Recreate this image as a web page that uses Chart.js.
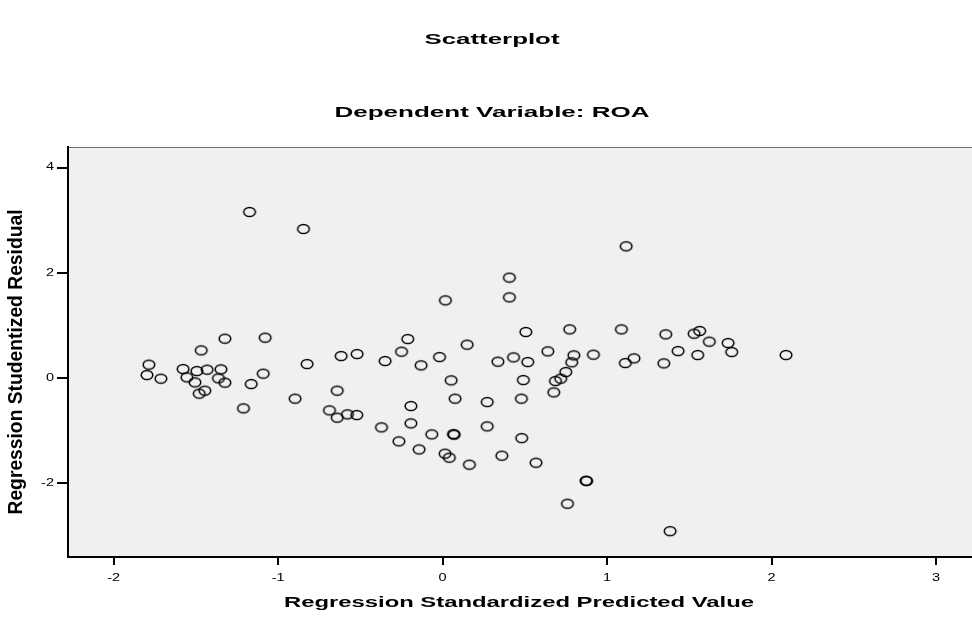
<!DOCTYPE html>
<html>
<head>
<meta charset="utf-8">
<script src="https://cdn.jsdelivr.net/npm/chart.js@4/dist/chart.umd.min.js"></script>
<style>
html,body{margin:0;padding:0;background:#fff;}
#c{display:block;}
</style>
</head>
<body>
<canvas id="c" width="972" height="618"></canvas>
<script>
// ---- data ----
const predicted = [
 -1.174,-0.846,-1.324,-1.079,-1.786,-1.798,-1.713,-1.468,-1.578,-1.494,
 -1.432,-1.348,-1.555,-1.506,-1.363,-1.324,-1.446,-1.480,-1.164,-1.091,
 -1.211,-0.824,-0.897,-0.617,-0.520,-0.641,-0.688,-0.641,-0.579,-0.522,
 -0.350,-0.250,-0.212,-0.131,-0.019,0.149,0.052,0.076,-0.193,-0.193,
 -0.372,-0.266,-0.143,-0.066,0.066,0.070,0.015,0.041,0.163,0.271,
 0.271,0.360,0.336,0.431,0.506,0.518,0.491,0.479,0.481,0.568,
 0.640,0.773,0.798,0.785,0.749,0.718,0.686,0.676,0.917,1.087,
 1.111,1.164,0.872,0.876,0.759,1.116,0.406,0.406,0.017,1.357,
 1.529,1.563,1.622,1.736,1.758,1.432,1.551,1.345,2.088,1.383
];
const residual = [
 3.156,2.833,0.749,0.768,0.255,0.057,-0.012,0.527,0.171,0.133,
 0.160,0.165,0.013,-0.082,-0.006,-0.088,-0.240,-0.297,-0.114,0.083,
 -0.576,0.266,-0.392,0.418,0.456,-0.240,-0.614,-0.753,-0.690,-0.703,
 0.323,0.502,0.741,0.241,0.399,0.635,-0.044,-0.392,-0.532,-0.861,
 -0.937,-1.203,-1.356,-1.070,-1.065,-1.075,-1.437,-1.513,-1.646,-0.456,
 -0.918,-1.475,0.312,0.394,0.875,0.304,-0.038,-0.392,-1.141,-1.609,
 0.508,0.926,0.432,0.298,0.114,-0.011,-0.057,-0.272,0.445,0.926,
 0.285,0.375,-1.951,-1.955,-2.388,2.504,1.909,1.534,1.477,0.831,
 0.844,0.894,0.692,0.665,0.494,0.513,0.437,0.279,0.437,-2.909
];
const xTicks = [-2,-1,0,1,2,3];
const yTicks = [-2,0,2,4];
const titleText = "Scatterplot";
const subtitleText = "Dependent Variable: ROA";
const xTitle = "Regression Standardized Predicted Value";
const yTitle = "Regression Studentized Residual";

// ellipse marker
const marker = document.createElement('canvas');
marker.width = 16; marker.height = 14;
(function(){
  const m = marker.getContext('2d');
  m.strokeStyle = '#000'; m.lineWidth = 1.5;
  m.beginPath(); m.ellipse(8,7,5.8,4.6,0,0,Math.PI*2); m.stroke();
})();

function stretchedText(ctx, text, x, y, font, targetW, rotate, thick){
  ctx.save();
  ctx.font = font;
  ctx.fillStyle = '#000';
  ctx.textAlign = 'center';
  ctx.textBaseline = 'middle';
  const w = ctx.measureText(text).width;
  ctx.translate(x, y);
  if (rotate){
    ctx.scale(thick, 1);
    ctx.rotate(-Math.PI/2);
    ctx.scale(targetW / w, 1);
  } else {
    ctx.scale(targetW / w, 1);
  }
  ctx.fillText(text, 0, 0);
  ctx.restore();
}

const decor = {
  id: 'decor',
  beforeDraw(chart){
    const {ctx, chartArea:a} = chart;
    ctx.save();
    ctx.fillStyle = '#f0f0f0';
    ctx.fillRect(a.left, a.top, a.right - a.left, a.bottom - a.top);
    ctx.strokeStyle = '#707070';
    ctx.lineWidth = 1;
    ctx.beginPath(); ctx.moveTo(a.left, a.top + 0.5); ctx.lineTo(a.right, a.top + 0.5); ctx.stroke();
    ctx.restore();
  },
  afterDraw(chart){
    const {ctx} = chart;
    const xs = chart.scales.x, ys = chart.scales.y;
    ctx.save();
    ctx.font = '10px "Liberation Sans", Arial, sans-serif';
    ctx.fillStyle = '#000';
    ctx.textBaseline = 'middle';
    xs.ticks.forEach(t => {
      const px = xs.getPixelForValue(t.value);
      ctx.save(); ctx.translate(px, 578); ctx.scale(1.45,1);
      ctx.textAlign = 'center'; ctx.fillText(String(t.value), 0, 0); ctx.restore();
    });
    ys.ticks.forEach(t => {
      const py = ys.getPixelForValue(t.value);
      ctx.save(); ctx.translate(54, py); ctx.scale(1.45,1);
      ctx.textAlign = 'right'; ctx.fillText(String(t.value), 0, 0); ctx.restore();
    });
    ctx.restore();
    const bold = 'bold 14px "Liberation Sans", Arial, sans-serif';
    stretchedText(ctx, titleText, 492, 40, bold, 135, false);
    stretchedText(ctx, subtitleText, 492, 113, bold, 315, false);
    stretchedText(ctx, xTitle, 519, 603, bold, 470, false);
    stretchedText(ctx, yTitle, 17, 362, 'bold 15px "Liberation Sans", Arial, sans-serif', 305, true, 1.3);
  }
};

new Chart(document.getElementById('c'), {
  type: 'scatter',
  data: {
    datasets: [{
      data: predicted.map((x,i) => ({x: x, y: residual[i]})),
      pointStyle: marker,
      pointRadius: 6,
      pointHoverRadius: 6
    }]
  },
  options: {
    responsive: false,
    animation: false,
    devicePixelRatio: 1,
    layout: { autoPadding: false, padding: { left: 0, top: 147, right: 0, bottom: 0 } },
    plugins: { legend: { display: false }, tooltip: { enabled: false }, title: {display:false} },
    scales: {
      x: {
        type: 'linear',
        min: -2.278, max: 3.219,
        afterBuildTicks: s => { s.ticks = xTicks.map(v => ({value: v})); },
        afterFit: s => { s.height = 61; s.paddingRight = 0; s.paddingLeft = 0; },
        grid: { display: true, drawOnChartArea: false, drawTicks: true, tickLength: 8, color: '#000', lineWidth: 2 },
        border: { display: true, color: '#000', width: 2 },
        ticks: { display: false }
      },
      y: {
        type: 'linear',
        min: -3.40, max: 4.39,
        afterBuildTicks: s => { s.ticks = yTicks.map(v => ({value: v})); },
        afterFit: s => { s.width = 68; s.paddingTop = 0; s.paddingBottom = 0; },
        grid: { display: true, drawOnChartArea: false, drawTicks: true, tickLength: 11, color: '#000', lineWidth: 2 },
        border: { display: true, color: '#000', width: 2 },
        ticks: { display: false }
      }
    }
  },
  plugins: [decor]
});
</script>
</body>
</html>
